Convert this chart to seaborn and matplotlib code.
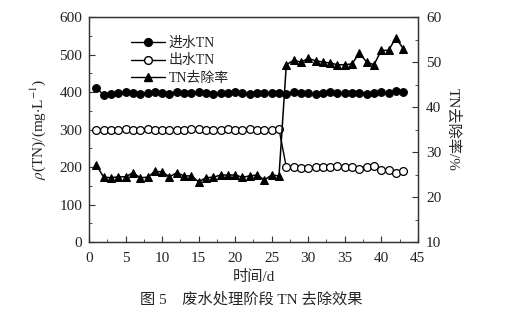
import numpy as np
import pandas as pd
import matplotlib
matplotlib.use("Agg")
import matplotlib.pyplot as plt
from matplotlib.ticker import MultipleLocator
from matplotlib.lines import Line2D
import seaborn as sns

days = list(range(1, 44))
inflow_tn = [410, 393, 395, 398, 399, 397, 396, 398, 400, 397, 396, 399, 398, 397,
             400, 398, 396, 398, 397, 399, 398, 396, 398, 397, 398, 397, 396, 399,
             398, 397, 396, 398, 399, 397, 398, 397, 398, 396, 397, 400, 398, 402, 399]
outflow_tn = [300, 298, 299, 300, 301, 299, 300, 302, 300, 299, 298, 299, 300, 301,
              302, 300, 299, 300, 301, 299, 300, 302, 300, 299, 300, 301,
              200, 199, 198, 197, 199, 199, 201, 202, 200, 200, 195, 201, 202,
              192, 191, 183, 190]
removal_rate = [27.1, 24.4, 24.3, 24.5, 24.5, 25.4, 24.3, 24.4, 25.7, 25.6, 24.5,
                25.4, 24.7, 24.7, 23.4, 24.3, 24.4, 24.9, 24.9, 24.9, 24.4, 24.7,
                24.9, 23.8, 24.9, 24.7,
                49.4, 50.4, 50.0, 50.8, 50.3, 50.0, 49.8, 49.4, 49.4, 49.6, 52.0,
                50.0, 49.4, 52.6, 52.6, 55.4, 53.0]
labels = ["进水TN", "出水TN", "TN去除率"]

df = pd.DataFrame({"day": days, "in": inflow_tn, "out": outflow_tn, "rate": removal_rate})

sns.set_style("ticks")
plt.rcParams["font.family"] = ["Liberation Serif", "Noto Sans CJK SC", "DejaVu Sans"]
plt.rcParams["mathtext.fontset"] = "stix"

fig = plt.figure(figsize=(5.12, 3.16), dpi=100)
ax = fig.add_axes([0.174, 0.234, 0.642, 0.712])
ax2 = ax.twinx()

ms = 5.6
sns.lineplot(data=df, x="day", y="in", ax=ax, color="black", marker="o", markersize=ms,
             markerfacecolor="black", markeredgecolor="black", linewidth=1)
sns.lineplot(data=df, x="day", y="out", ax=ax, color="black", marker="o", markersize=ms,
             markerfacecolor="white", markeredgecolor="black", markeredgewidth=0.9, linewidth=1)
sns.lineplot(data=df, x="day", y="rate", ax=ax2, color="black", marker="^", markersize=ms + 0.6,
             markerfacecolor="black", markeredgecolor="black", linewidth=1.1)

ax.set_xlim(0, 45)
ax.set_ylim(0, 600)
ax2.set_ylim(10, 60)
ax.xaxis.set_major_locator(MultipleLocator(5))
ax.xaxis.set_minor_locator(MultipleLocator(2.5))
ax.yaxis.set_major_locator(MultipleLocator(100))
ax.yaxis.set_minor_locator(MultipleLocator(50))
ax2.yaxis.set_major_locator(MultipleLocator(10))
ax2.yaxis.set_minor_locator(MultipleLocator(5))

for a in (ax, ax2):
    a.tick_params(which="both", direction="in", labelsize=11, colors="#333333",
                  labelcolor="#222222")
    a.tick_params(which="major", length=4)
    a.tick_params(which="minor", length=2)
    for s in a.spines.values():
        s.set_visible(True)
        s.set_linewidth(0.9)
        s.set_color("#333333")
ax.tick_params(axis="x", which="both", pad=7)
ax.tick_params(axis="y", which="both", pad=5)
ax2.tick_params(axis="y", which="both", pad=6)

ax.set_xlabel("时间/d", fontsize=11, labelpad=4)
ax.set_ylabel(r"$\rho$(TN)/(mg$\cdot$L$^{-1}$)", fontsize=11, labelpad=8)
ax2.set_ylabel("TN去除率/%", fontsize=11, rotation=270, labelpad=14)

handles = [
    Line2D([], [], color="black", marker="o", markersize=ms, markerfacecolor="black", linewidth=1),
    Line2D([], [], color="black", marker="o", markersize=ms, markerfacecolor="white", linewidth=1),
    Line2D([], [], color="black", marker="^", markersize=ms + 0.6, markerfacecolor="black", linewidth=1),
]
ax.legend(handles, labels, loc="upper left", bbox_to_anchor=(0.09, 0.97), frameon=False,
          fontsize=10, handlelength=2.4, labelspacing=0.35, handletextpad=0.3)

fig.text(0.49, 0.03, "图 5    废水处理阶段 TN 去除效果", ha="center", va="bottom", fontsize=11)

fig.savefig("out.png", dpi=100)
